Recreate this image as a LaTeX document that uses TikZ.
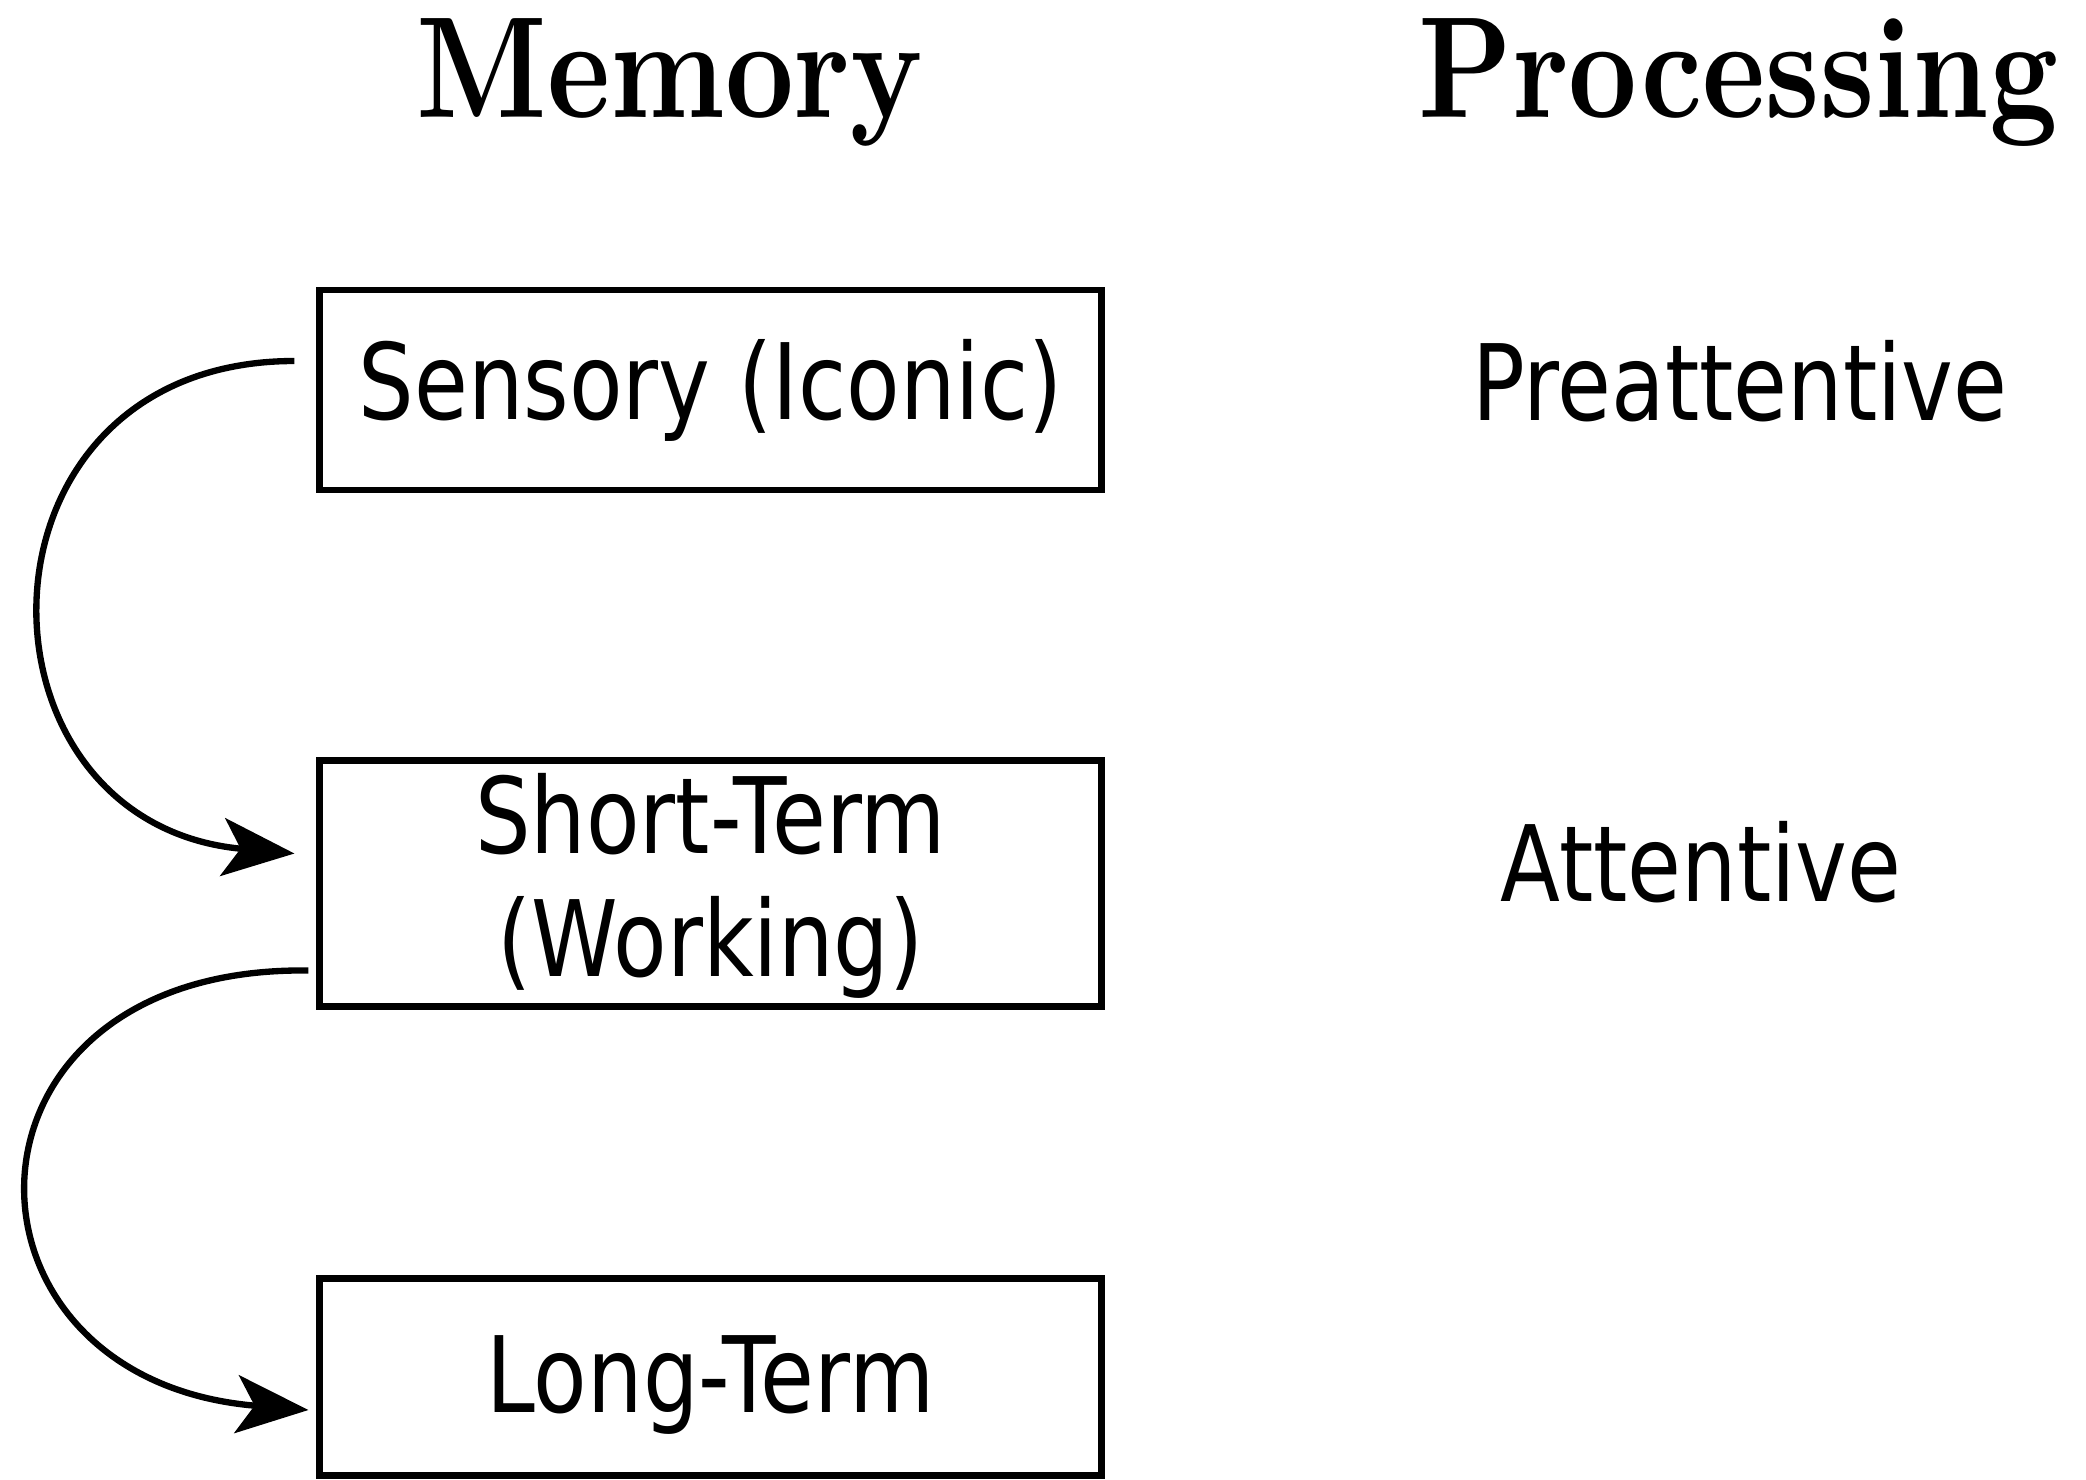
\documentclass[tikz,border=0pt]{standalone}
\usepackage{fontspec}
\usepackage{graphicx}
\newfontfamily\boxfont{DejaVu Sans}
\IfFontExistsTF{lmroman10-bold.otf}
  {\newfontfamily\titlefont{lmroman10-bold.otf}}
  {\newfontfamily\titlefont{lmroman10-regular.otf}[FakeBold=7]}
\usetikzlibrary{arrows.meta,calc}
\newcommand{\sqz}[1]{\scalebox{0.83}[1]{#1}}
\begin{document}
\begin{tikzpicture}[x=0.01cm,y=-0.01cm,
  membox/.style={draw, line width=1.9pt, minimum width=7.81cm, inner sep=0pt,
    font=\boxfont\fontsize{30}{35}\selectfont, align=center},
  plainlabel/.style={font=\boxfont\fontsize{30}{35}\selectfont, inner sep=0pt, anchor=base},
  coltitle/.style={font=\titlefont\fontsize{41}{49}\selectfont, inner sep=0pt, anchor=base},
  flow/.style={line width=1.8pt, -{Stealth[length=0.72cm,width=0.58cm,inset=0.18cm]}}]
\useasboundingbox (0,0) rectangle (2086,1479);

\node[coltitle] (mem) at (670,118) {\sqz{Memory}};
\node[coltitle] (proc) at (1738,118) {\sqz{Processing}};

\node[plainlabel] (pre) at (1740,420) {\sqz{Preattentive}};
\node[plainlabel] (att) at (1701,901) {\sqz{Attentive}};

\node[membox, minimum height=2.0cm] (sen) at (710.5,390) {\sqz{Sensory (Iconic)}};
\node[membox, minimum height=2.39cm] (stm) at (710.5,883.5)
  {\raisebox{-0.07cm}[\height][\depth]{\sqz{\begin{tabular}{@{}c@{}}Short-Term\\(Working)\end{tabular}}}};
\node[membox, minimum height=1.97cm] (ltm) at (710.5,1377) {\raisebox{-0.08cm}[\height][\depth]{\sqz{Long-Term}}};

\draw[flow] ($(sen.west)+(-22,-29)$) .. controls +(-335,0) and +(-335,-30) .. ($(stm.west)+(-22,-30)$);
\draw[flow] ($(stm.west)+(-8,87)$) .. controls +(-370,-5) and +(-370,-30) .. ($(ltm.west)+(-8,33)$);
\end{tikzpicture}
\end{document}
